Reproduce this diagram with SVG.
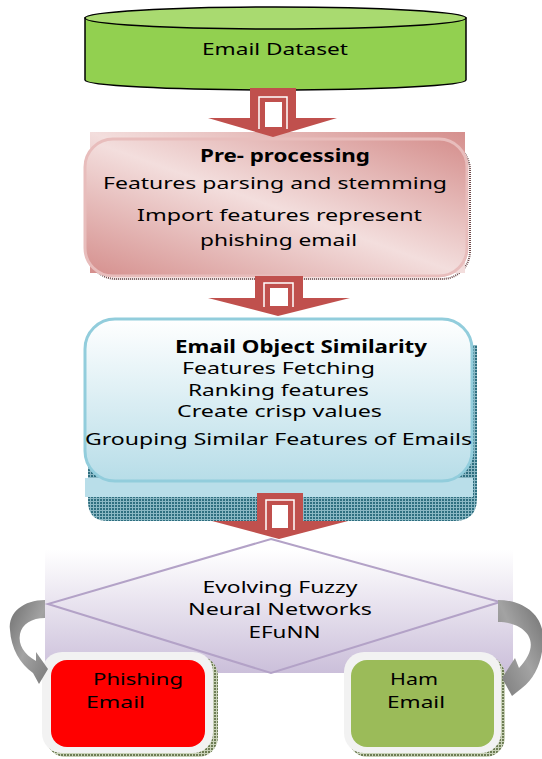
<svg xmlns="http://www.w3.org/2000/svg" width="542" height="759" viewBox="0 0 542 759">
<defs>
<style>
.t{font-family:"Noto Sans","Open Sans","Liberation Sans",sans-serif;font-size:17px;fill:#000;text-anchor:middle}
.b{font-weight:bold}
.red{fill:#C0504D}
.dia{fill:none;stroke:#B3A2C7;stroke-width:2}
</style>
<linearGradient id="pink" x1="1" y1="0" x2="0" y2="1">
<stop offset="0" stop-color="#D58F8D"/>
<stop offset="0.5" stop-color="#F3DEDD"/>
<stop offset="1" stop-color="#D58F8D"/>
</linearGradient>
<linearGradient id="blue" x1="0" y1="0" x2="0" y2="1">
<stop offset="0" stop-color="#FFFFFF"/>
<stop offset="1" stop-color="#B7DDE8"/>
</linearGradient>
<linearGradient id="lav" x1="0" y1="0" x2="0" y2="1">
<stop offset="0" stop-color="#FFFFFF"/>
<stop offset="1" stop-color="#CBBFDA"/>
</linearGradient>
<linearGradient id="grayL" x1="0" y1="0" x2="1" y2="1">
<stop offset="0" stop-color="#6F6F6F"/>
<stop offset="0.5" stop-color="#A3A3A3"/>
<stop offset="1" stop-color="#7A7A7A"/>
</linearGradient>
<linearGradient id="grayR" x1="1" y1="0" x2="0" y2="1">
<stop offset="0" stop-color="#6F6F6F"/>
<stop offset="0.5" stop-color="#A3A3A3"/>
<stop offset="1" stop-color="#7A7A7A"/>
</linearGradient>
<pattern id="teal" width="3" height="3" patternUnits="userSpaceOnUse">
<rect width="3" height="3" fill="#2F6F80"/>
<path d="M0,0.5H3M0.5,0V3" stroke="#8BB8C4" stroke-width="1"/>
</pattern>
<pattern id="olive" width="3" height="3" patternUnits="userSpaceOnUse">
<rect width="3" height="3" fill="#6E7D55"/>
<path d="M0,0.5H3M0.5,0V3" stroke="#C9D2B8" stroke-width="1"/>
</pattern>
</defs>

<g id="email-dataset">
<path d="M85,18 L85,80 A190.5,10 0 0 0 466,80 L466,18 Z" fill="#92D050" stroke="#000" stroke-width="1.5"/>
<ellipse cx="275.5" cy="18" rx="190.5" ry="11" fill="#A9DA70" stroke="#000" stroke-width="1.5"/>
<text class="t" x="275" y="55" textLength="146" lengthAdjust="spacingAndGlyphs">Email Dataset</text>
</g>

<g id="pre-processing">
<rect x="88" y="142" width="382" height="137" rx="28" fill="none" stroke="#6E4A4A" stroke-width="2" stroke-dasharray="1 1"/>
<rect x="90" y="132" width="375" height="141" fill="url(#pink)"/>
<rect x="85" y="139" width="382" height="137" rx="28" fill="url(#pink)" stroke="#E8BDBC" stroke-width="3"/>
<text class="t b" x="285" y="162" font-size="16" textLength="170" lengthAdjust="spacingAndGlyphs">Pre- processing</text>
<text class="t" x="275" y="189" textLength="344" lengthAdjust="spacingAndGlyphs">Features parsing and stemming</text>
<text class="t" x="279.5" y="221" textLength="285" lengthAdjust="spacingAndGlyphs">Import features represent</text>
<text class="t" x="278.5" y="246" textLength="157" lengthAdjust="spacingAndGlyphs">phishing email</text>
</g>

<g id="email-object-similarity">
<path d="M88,345 L477,345 L477,498 Q477,521 454,521 L108,521 Q88,521 88,501 Z" fill="url(#teal)"/>
<rect x="85" y="478" width="388" height="19" fill="#B9DEE9"/>
<rect x="85" y="319" width="387" height="162" rx="30" fill="url(#blue)" stroke="#92CDDC" stroke-width="3"/>
<text class="t b" x="301" y="353" textLength="252" lengthAdjust="spacingAndGlyphs">Email Object Similarity</text>
<text class="t" x="278.5" y="374" textLength="193" lengthAdjust="spacingAndGlyphs">Features Fetching</text>
<text class="t" x="278.5" y="396" textLength="181" lengthAdjust="spacingAndGlyphs">Ranking features</text>
<text class="t" x="279.5" y="417" textLength="205" lengthAdjust="spacingAndGlyphs">Create crisp values</text>
<text class="t" x="278.5" y="445" textLength="387" lengthAdjust="spacingAndGlyphs">Grouping Similar Features of Emails</text>
</g>

<g id="efunn">
<rect x="45" y="550" width="468" height="123" fill="url(#lav)"/>
<path class="dia" d="M271,539 L500,602 L271,673 L48,604 Z"/>
<text class="t" x="280" y="593" textLength="155" lengthAdjust="spacingAndGlyphs">Evolving Fuzzy</text>
<text class="t" x="280" y="615" textLength="184" lengthAdjust="spacingAndGlyphs">Neural Networks</text>
<text class="t" x="284.5" y="638" textLength="72" lengthAdjust="spacingAndGlyphs">EFuNN</text>
</g>

<g id="phishing-email">
<rect x="46" y="656" width="172" height="101" rx="20" fill="url(#olive)"/>
<rect x="42" y="652" width="171" height="101" rx="20" fill="#F2F2F2"/>
<rect x="51" y="660" width="154" height="87" rx="16" fill="#FF0000"/>
<text class="t" x="138" y="685" textLength="90" lengthAdjust="spacingAndGlyphs">Phishing</text>
<text class="t" x="115.5" y="708" textLength="59" lengthAdjust="spacingAndGlyphs">Email</text>
</g>

<g id="ham-email">
<rect x="348" y="656" width="157" height="101" rx="20" fill="url(#olive)"/>
<rect x="344" y="652" width="157" height="101" rx="20" fill="#F2F2F2"/>
<rect x="351" y="660" width="143" height="87" rx="16" fill="#9BBB59"/>
<text class="t" x="414" y="685" textLength="48" lengthAdjust="spacingAndGlyphs">Ham</text>
<text class="t" x="416" y="708" textLength="58" lengthAdjust="spacingAndGlyphs">Email</text>
</g>

<g id="connectors">
<polygon class="red" points="250,88 296,88 296,118 337,118 273,137 208,118 250,118"/>
<path d="M259,129 V97 H287 V129" fill="none" stroke="#fff" stroke-width="1.5"/>
<rect x="265" y="102" width="17" height="25" fill="#fff"/>

<polygon class="red" points="255,276 303,276 303,298 350,298 278,316 208,298 255,298"/>
<path d="M264,307 V283 H293 V307" fill="none" stroke="#fff" stroke-width="1.5"/>
<rect x="270" y="288" width="18" height="18" fill="#fff"/>

<polygon class="red" points="257,493 303,493 303,521 348,521 279,539 212,521 257,521"/>
<path d="M266,530 V500 H294 V530" fill="none" stroke="#fff" stroke-width="1.5"/>
<rect x="272" y="505" width="16" height="23" fill="#fff"/>

<path d="M45,600 C24,600 8,612 10,630 C11,648 20,664 33,673 L39,684 L48,669 L36,652 L36,661 C24,654 18,645 20,634 C22,624 32,618 45,618 Z" fill="url(#grayL)"/>
<path d="M498,600 C522,600 545,614 543,642 C542,662 535,678 522,688 L512,696 L502,678 L515,658 L519,668 C530,656 534,645 528,635 C522,626 510,622 498,622 Z" fill="url(#grayR)"/>
</g>
</svg>
